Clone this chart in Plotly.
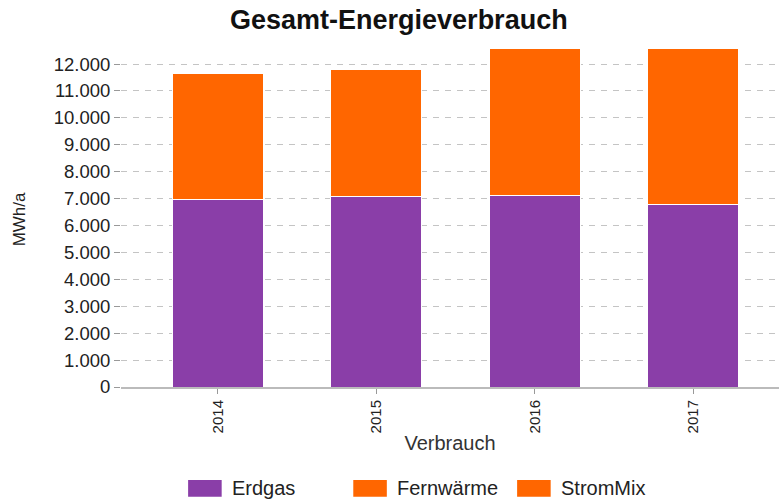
import plotly.graph_objects as go

years = ["2014", "2015", "2016", "2017"]
series_names = ["Erdgas", "Fernwärme", "StromMix"]
erdgas = [6950, 7070, 7130, 6800]
fernwaerme = [4700, 4710, 5500, 5800]
strommix = [0, 0, 0, 0]
colors = ["#8a3ea8", "#ff6600", "#ff6600"]

FONT = "Liberation Sans, Arial, sans-serif"

fig = go.Figure()
for name, vals, col in zip(series_names, [erdgas, fernwaerme, strommix], colors):
    fig.add_trace(go.Bar(
        x=years, y=vals, name=name,
        marker=dict(color=col, line=dict(color="white", width=1)),
        showlegend=False,
    ))

# custom legend (wide colour boxes); paper coords are relative to the plot area
legend_x = [0.102, 0.353, 0.602]
shapes = []
annotations = []
for nm, col, lx in zip(series_names, colors, legend_x):
    shapes.append(dict(type="rect", xref="paper", yref="paper",
                       x0=lx, x1=lx + 0.051, y0=-0.325, y1=-0.275,
                       fillcolor=col, line=dict(width=0)))
    annotations.append(dict(xref="paper", yref="paper", x=lx + 0.064, y=-0.300,
                            text=nm, showarrow=False, xanchor="left", yanchor="middle",
                            font=dict(family=FONT, size=20, color="#222")))

annotations.append(dict(xref="paper", yref="paper", x=-0.154, y=0.495,
                        text="MWh/a", textangle=-90, showarrow=False,
                        xanchor="center", yanchor="middle",
                        font=dict(family=FONT, size=17, color="#222")))

fig.update_layout(
    width=779, height=501,
    margin=dict(l=121, r=0, t=49, b=114),
    paper_bgcolor="white", plot_bgcolor="white",
    barmode="stack", bargap=0.425,
    separators=",.",
    font=dict(family=FONT, color="#222"),
    title=dict(text="<b>Gesamt-Energieverbrauch</b>", x=0.512, xanchor="center",
               y=0.96, yanchor="middle", font=dict(family=FONT, size=27, color="#111")),
    xaxis=dict(
        range=[-0.61, 3.54], tickangle=-90,
        tickfont=dict(family=FONT, size=15, color="#222"),
        ticks="outside", ticklen=5, tickcolor="#999",
        showline=True, linecolor="#bbb", linewidth=2,
        title=dict(text="Verbrauch", font=dict(family=FONT, size=20, color="#333"), standoff=4),
    ),
    yaxis=dict(
        range=[0, 12560], dtick=1000, tickformat=",d",
        tickfont=dict(family=FONT, size=18.5, color="#222"),
        ticks="outside", ticklen=6, tickcolor="#999",
        showgrid=True, gridcolor="#c4c4c4", griddash="6px,6px", gridwidth=1,
        zeroline=False, showline=False,
    ),
    shapes=shapes, annotations=annotations,
)

fig.write_html("out.html", config={"displayModeBar": False},
               post_script="document.body.style.margin='0';document.body.style.padding='0';")
